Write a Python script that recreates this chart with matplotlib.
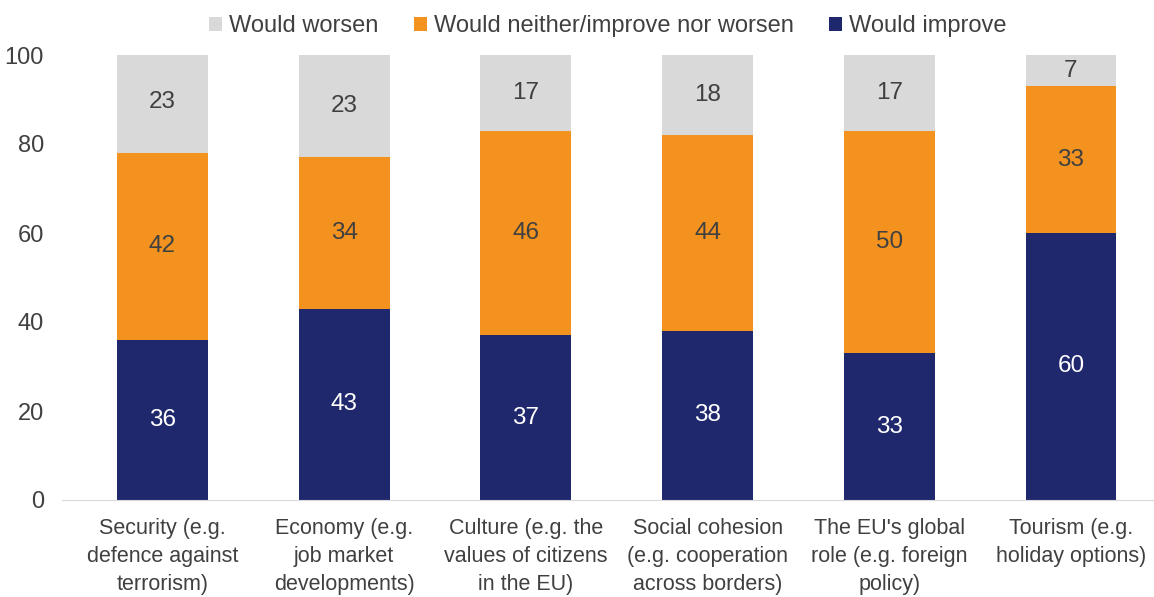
import matplotlib.pyplot as plt
import numpy as np

plt.rcParams['font.family'] = ['Liberation Sans', 'DejaVu Sans']

categories = [
    'Security (e.g.\ndefence against\nterrorism)',
    'Economy (e.g.\njob market\ndevelopments)',
    'Culture (e.g. the\nvalues of citizens\nin the EU)',
    'Social cohesion\n(e.g. cooperation\nacross borders)',
    "The EU's global\nrole (e.g. foreign\npolicy)",
    'Tourism (e.g.\nholiday options)',
]
improve = [36, 43, 37, 38, 33, 60]
neither = [42, 34, 46, 44, 50, 33]
worsen = [23, 23, 17, 18, 17, 7]

c_improve = '#20286d'
c_neither = '#f3921f'
c_worsen = '#d9d9d9'
txt = '#404040'

fig = plt.figure(figsize=(11.54, 5.97), dpi=100)
ax = fig.add_axes([62 / 1154, 1 - 500 / 597, 1 - 62 / 1154, (500 - 55) / 597])

x = np.arange(len(categories))
w = 0.5
b1 = ax.bar(x, improve, w, color=c_improve, label='Would improve')
b2 = ax.bar(x, neither, w, bottom=improve, color=c_neither,
            label='Would neither/improve nor worsen')
bottom3 = np.array(improve) + np.array(neither)
b3 = ax.bar(x, worsen, w, bottom=bottom3, color=c_worsen, label='Would worsen')

for i in range(len(x)):
    ax.text(x[i], improve[i] / 2, str(improve[i]), ha='center', va='center',
            color='white', fontsize=17.5)
    ax.text(x[i], improve[i] + neither[i] / 2, str(neither[i]), ha='center',
            va='center', color=txt, fontsize=17.5)
    ax.text(x[i], bottom3[i] + worsen[i] / 2, str(worsen[i]), ha='center',
            va='center', color=txt, fontsize=17.5)

ax.set_xlim(-0.553, 5.457)
ax.set_ylim(0, 100)
ax.set_yticks([0, 20, 40, 60, 80, 100])
ax.set_xticks(x)
ax.set_xticklabels(categories, fontsize=15.5, color=txt, linespacing=1.45)
ax.tick_params(axis='y', labelsize=17, labelcolor=txt, length=0, pad=13)
ax.tick_params(axis='x', length=0, pad=13)
for s in ['top', 'right', 'left']:
    ax.spines[s].set_visible(False)
ax.spines['bottom'].set_color('#d9d9d9')

ax.legend(handles=[b3, b2, b1], loc='center', bbox_to_anchor=(0.5, 1.065),
          ncol=3, frameon=False, fontsize=17, labelcolor=txt,
          handlelength=0.55, handleheight=0.55, handletextpad=0.3,
          columnspacing=1.5)

fig.savefig('out.png', dpi=100)
